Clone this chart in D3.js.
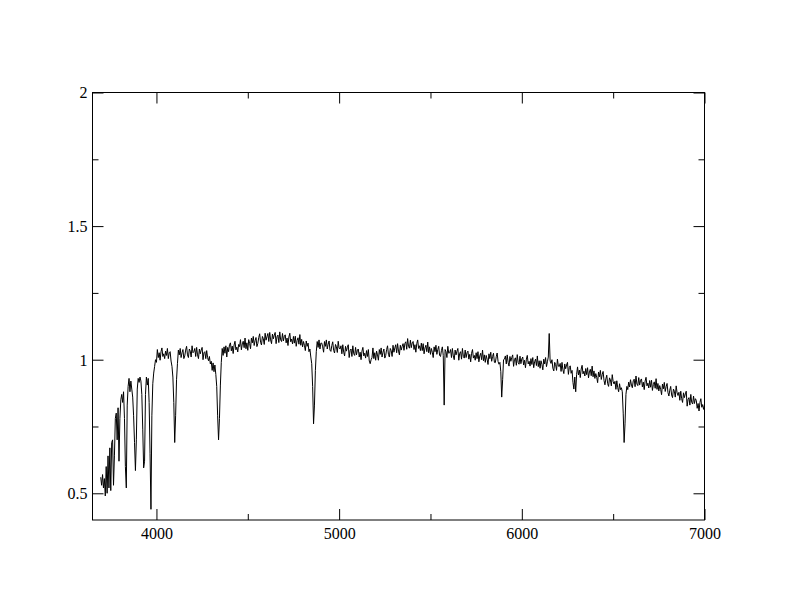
<!DOCTYPE html>
<html>
<head>
<meta charset="utf-8">
<script src="https://cdn.jsdelivr.net/npm/d3@7"></script>
<style>
  html, body { margin: 0; padding: 0; background: #fff; }
  svg { display: block; }
  text { font-family: "Liberation Serif", "Times New Roman", serif; font-size: 16px; fill: #000; }
</style>
</head>
<body>
<svg id="chart" width="792" height="612"></svg>
<script>
// ---- data ----
const xDomain = [3650, 7000];
const yDomain = [0.4, 2];
const xMajorTicks = [4000, 5000, 6000, 7000];
const xMinorTicks = [4500, 5500, 6500];
const yMajorTicks = [0.5, 1, 1.5, 2];
const yMinorTicks = [0.75, 1.25, 1.75];
const xTickLabels = ["4000", "5000", "6000", "7000"];
const yTickLabels = ["0.5", "1", "1.5", "2"];

// wavelength sampling of the spectrum (Angstrom)
const waveStart = 3695;
const waveStep = 5;

// flux, 3695..4000 (Balmer series region)
const fluxBlue = [
  0.560, 0.530, 0.570, 0.520, 0.555, 0.490, 0.600, 0.500, 0.640, 0.520, // 3695
  0.670, 0.510, 0.690, 0.700, 0.530, 0.640, 0.780, 0.800, 0.700, 0.820, // 3745
  0.620, 0.780, 0.850, 0.870, 0.840, 0.880, 0.780, 0.600, 0.520, 0.830, // 3795
  0.900, 0.930, 0.880, 0.920, 0.890, 0.860, 0.790, 0.690, 0.585, 0.700, // 3845
  0.890, 0.930, 0.915, 0.935, 0.920, 0.870, 0.740, 0.595, 0.620, 0.870, // 3895
  0.935, 0.905, 0.930, 0.840, 0.650, 0.440, 0.790, 0.910, 0.950, 0.975, // 3945
  1.000, 0.990                                                          // 3995
];

// flux, 4005..7000
const fluxRed = [
  1.038, 1.008, 1.026, 0.998, 1.030, 1.044, 1.012, 1.022, 1.004, 1.032, // 4005
  1.016, 1.042, 1.004, 1.026, 1.030, 0.995, 0.975, 0.935, 0.840, 0.690, // 4055
  0.790, 0.925, 0.985, 1.036, 1.018, 1.042, 1.008, 1.026, 1.038, 1.004, // 4105
  1.014, 1.036, 1.050, 1.018, 1.008, 1.040, 1.032, 1.010, 1.052, 1.026, // 4155
  1.030, 1.042, 1.012, 1.046, 1.018, 1.004, 1.040, 1.022, 1.036, 1.046, // 4205
  1.000, 1.026, 1.030, 1.004, 1.034, 1.008, 0.996, 1.012, 0.984, 0.994, // 4255
  0.960, 0.988, 0.955, 0.980, 0.945, 0.900, 0.790, 0.700, 0.780, 0.905, // 4305
  0.990, 1.042, 1.016, 1.048, 1.024, 1.052, 1.010, 1.046, 1.030, 1.056, // 4355
  1.063, 1.033, 1.051, 1.023, 1.055, 1.069, 1.037, 1.047, 1.029, 1.057, // 4405
  1.049, 1.075, 1.037, 1.059, 1.069, 1.045, 1.081, 1.041, 1.063, 1.035, // 4455
  1.075, 1.061, 1.041, 1.081, 1.063, 1.087, 1.053, 1.071, 1.083, 1.049, // 4505
  1.061, 1.083, 1.097, 1.065, 1.055, 1.087, 1.079, 1.057, 1.099, 1.073, // 4555
  1.086, 1.098, 1.068, 1.102, 1.074, 1.060, 1.096, 1.078, 1.092, 1.102, // 4605
  1.060, 1.086, 1.092, 1.064, 1.104, 1.074, 1.068, 1.098, 1.070, 1.088, // 4655
  1.093, 1.063, 1.081, 1.053, 1.085, 1.099, 1.067, 1.077, 1.059, 1.087, // 4705
  1.062, 1.088, 1.050, 1.072, 1.082, 1.058, 1.094, 1.054, 1.076, 1.048, // 4755
  1.068, 1.054, 1.034, 1.070, 1.050, 1.062, 1.030, 1.040, 1.010, 0.985, // 4805
  0.900, 0.760, 0.830, 0.960, 1.030, 1.068, 1.046, 1.074, 1.040, 1.062, // 4855
  1.062, 1.048, 1.028, 1.068, 1.050, 1.074, 1.040, 1.058, 1.070, 1.036, // 4905
  1.031, 1.053, 1.067, 1.035, 1.025, 1.057, 1.049, 1.027, 1.069, 1.043, // 4955
  1.040, 1.052, 1.022, 1.056, 1.028, 1.014, 1.050, 1.032, 1.046, 1.056, // 5005
  1.008, 1.034, 1.040, 1.012, 1.052, 1.022, 1.016, 1.046, 1.018, 1.036, // 5055
  1.040, 1.010, 1.028, 1.000, 1.032, 1.046, 1.014, 1.024, 1.006, 1.034, // 5105
  1.012, 1.038, 0.995, 0.985, 1.000, 1.008, 1.044, 1.004, 1.026, 0.998, // 5155
  1.032, 1.018, 0.998, 1.038, 1.020, 1.044, 1.010, 1.028, 1.040, 1.006, // 5205
  1.016, 1.038, 1.052, 1.020, 1.010, 1.042, 1.034, 1.012, 1.054, 1.028, // 5255
  1.044, 1.056, 1.026, 1.060, 1.032, 1.018, 1.054, 1.036, 1.050, 1.060, // 5305
  1.035, 1.061, 1.067, 1.039, 1.079, 1.049, 1.043, 1.073, 1.045, 1.063, // 5355
  1.068, 1.038, 1.056, 1.028, 1.060, 1.074, 1.042, 1.052, 1.034, 1.062, // 5405
  1.034, 1.060, 1.022, 1.044, 1.054, 1.030, 1.066, 1.026, 1.048, 1.020, // 5455
  1.042, 1.028, 1.008, 1.048, 1.030, 1.054, 1.020, 1.038, 1.050, 1.016, // 5505
  1.012, 1.034, 1.048, 1.016, 0.830, 1.038, 1.030, 1.008, 1.050, 1.024, // 5555
  1.026, 1.038, 1.008, 1.042, 1.014, 1.000, 1.036, 1.018, 1.032, 1.042, // 5605
  0.998, 1.024, 1.030, 1.002, 1.042, 1.012, 1.006, 1.036, 1.008, 1.026, // 5655
  1.032, 1.002, 1.020, 0.992, 1.024, 1.038, 1.006, 1.016, 0.998, 1.026, // 5705
  1.004, 1.030, 0.992, 1.014, 1.024, 1.000, 1.036, 0.996, 1.018, 0.990, // 5755
  1.016, 1.002, 0.982, 1.022, 1.004, 1.028, 0.994, 1.012, 1.024, 0.990, // 5805
  0.989, 1.011, 1.025, 0.993, 0.983, 0.990, 0.955, 0.860, 0.925, 1.000, // 5855
  1.002, 1.014, 0.984, 1.018, 0.990, 0.976, 1.012, 0.994, 1.008, 1.018, // 5905
  0.975, 1.001, 1.007, 0.979, 1.019, 0.989, 0.983, 1.013, 0.985, 1.003, // 5955
  1.010, 0.980, 0.998, 0.970, 1.002, 1.016, 0.984, 0.994, 0.976, 1.004, // 6005
  0.982, 1.008, 0.970, 0.992, 1.002, 0.978, 1.014, 0.974, 0.996, 0.968, // 6055
  0.996, 0.982, 0.962, 1.002, 0.984, 1.008, 0.974, 0.992, 1.010, 1.098, // 6105
  0.995, 0.986, 1.000, 0.968, 0.958, 0.990, 0.982, 0.960, 1.002, 0.976, // 6155
  0.974, 0.986, 0.956, 0.990, 0.962, 0.948, 0.984, 0.966, 0.980, 0.990, // 6205
  0.945, 0.971, 0.977, 0.949, 0.960, 0.915, 0.890, 0.935, 0.880, 0.945, // 6255
  0.973, 0.943, 0.961, 0.933, 0.965, 0.979, 0.947, 0.957, 0.939, 0.967, // 6305
  0.944, 0.970, 0.932, 0.954, 0.964, 0.940, 0.976, 0.936, 0.958, 0.930, // 6355
  0.948, 0.934, 0.914, 0.954, 0.936, 0.960, 0.926, 0.944, 0.956, 0.922, // 6405
  0.906, 0.928, 0.942, 0.910, 0.900, 0.932, 0.924, 0.902, 0.944, 0.918, // 6455
  0.909, 0.919, 0.889, 0.921, 0.895, 0.880, 0.910, 0.888, 0.895, 0.880, // 6505
  0.800, 0.690, 0.760, 0.870, 0.900, 0.888, 0.916, 0.898, 0.925, 0.905, // 6555
  0.895, 0.921, 0.927, 0.899, 0.939, 0.909, 0.903, 0.933, 0.905, 0.923, // 6605
  0.928, 0.898, 0.916, 0.888, 0.920, 0.934, 0.902, 0.912, 0.894, 0.922, // 6655
  0.897, 0.923, 0.885, 0.907, 0.917, 0.893, 0.929, 0.889, 0.911, 0.883, // 6705
  0.903, 0.889, 0.869, 0.909, 0.891, 0.915, 0.881, 0.899, 0.911, 0.877, // 6755
  0.864, 0.886, 0.900, 0.868, 0.858, 0.890, 0.882, 0.860, 0.902, 0.876, // 6805
  0.866, 0.878, 0.848, 0.882, 0.854, 0.840, 0.876, 0.858, 0.872, 0.882, // 6855
  0.826, 0.852, 0.858, 0.830, 0.870, 0.840, 0.834, 0.864, 0.836, 0.854, // 6905
  0.848, 0.818, 0.836, 0.808, 0.840, 0.854, 0.822, 0.832, 0.814, 0.830  // 6955
];

// ---- drawing ----
const plot = { left: 92.5, right: 704.5, top: 92.5, bottom: 520 };
const majorLen = 11, minorLen = 6;
const fontFamily = '"Liberation Serif", "Times New Roman", serif';

const svg = d3.select("#chart");
svg.append("rect").attr("width", 792).attr("height", 612).attr("fill", "#fff");

const x = d3.scaleLinear().domain(xDomain).range([plot.left, plot.right]);
const y = d3.scaleLinear().domain(yDomain).range([plot.bottom, plot.top]);

const flux = fluxBlue.concat(fluxRed);
const spectrum = flux.map((f, i) => ({ w: waveStart + i * waveStep, f: f }));

svg.append("clipPath").attr("id", "plotclip")
  .append("rect")
  .attr("x", plot.left).attr("y", plot.top)
  .attr("width", plot.right - plot.left).attr("height", plot.bottom - plot.top);

svg.append("path")
  .datum(spectrum)
  .attr("clip-path", "url(#plotclip)")
  .attr("fill", "none")
  .attr("stroke", "#000")
  .attr("stroke-width", 1)
  .attr("d", d3.line().x(d => x(d.w)).y(d => y(d.f)));

// axes: inward ticks on all four sides
function addAxis(axisGen, tx, ty, majors, minors, labels, showLabels) {
  const gMaj = svg.append("g").attr("transform", `translate(${tx},${ty})`)
    .call(axisGen.tickValues(majors).tickSizeInner(-majorLen).tickSizeOuter(0)
      .tickFormat((d, i) => showLabels ? labels[i] : ""));
  gMaj.attr("font-family", fontFamily).attr("font-size", 16);
  gMaj.select(".domain").remove();
  gMaj.selectAll("line").attr("stroke", "#000").attr("stroke-width", 1);
  gMaj.selectAll("text").attr("fill", "#000")
    .style("font-family", fontFamily).style("font-size", "16px");
  const gMin = svg.append("g").attr("transform", `translate(${tx},${ty})`)
    .call(axisGen.tickValues(minors).tickSizeInner(-minorLen).tickSizeOuter(0).tickFormat(""));
  gMin.select(".domain").remove();
  gMin.selectAll("line").attr("stroke", "#000").attr("stroke-width", 1);
  return gMaj;
}

const gx = addAxis(d3.axisBottom(x), 0, plot.bottom, xMajorTicks, xMinorTicks, xTickLabels, true);
gx.selectAll("text").attr("y", 19).attr("dy", 0);
addAxis(d3.axisTop(x), 0, plot.top, xMajorTicks, xMinorTicks, xTickLabels, false);
const gy = addAxis(d3.axisLeft(y), plot.left, 0, yMajorTicks, yMinorTicks, yTickLabels, true);
gy.selectAll("text").attr("x", -5).attr("dy", "0.34em");
addAxis(d3.axisRight(y), plot.right, 0, yMajorTicks, yMinorTicks, yTickLabels, false);

// frame
svg.append("rect")
  .attr("x", plot.left).attr("y", plot.top)
  .attr("width", plot.right - plot.left).attr("height", plot.bottom - plot.top)
  .attr("fill", "none").attr("stroke", "#000").attr("stroke-width", 1);
</script>
</body>
</html>
